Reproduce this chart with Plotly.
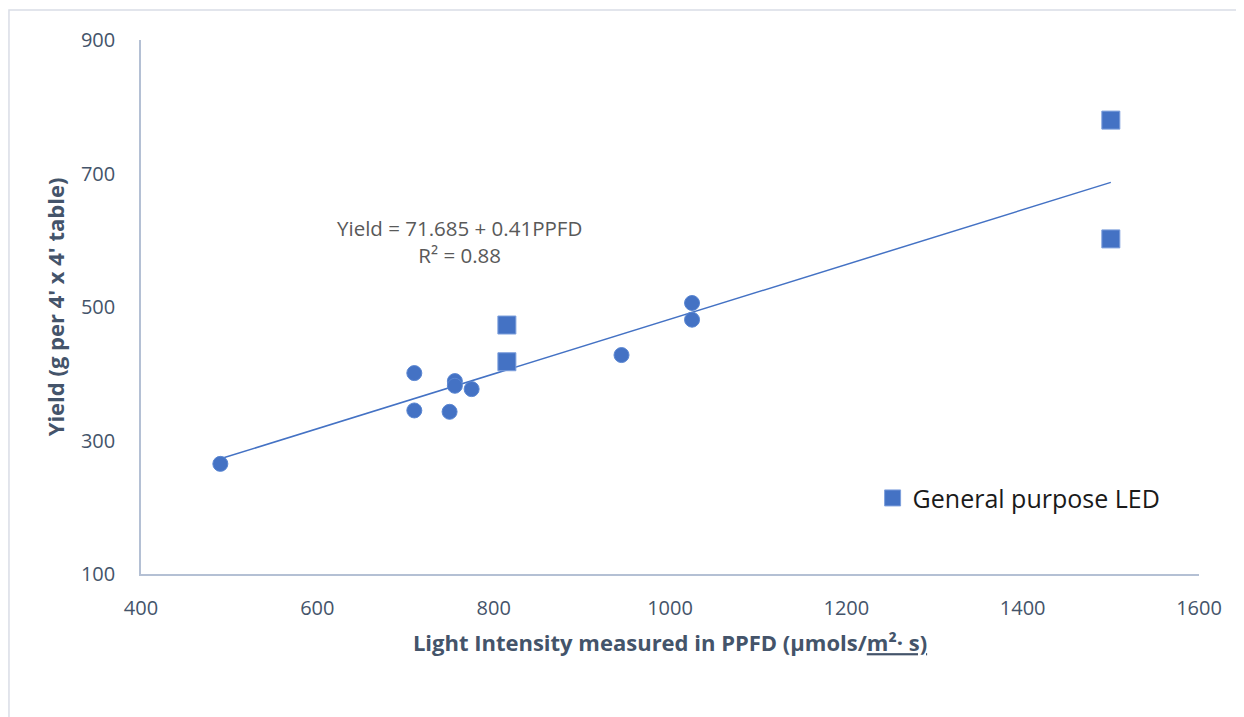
import plotly.graph_objects as go
import numpy as np

# Data
other_ppfd = [490, 710, 710, 750, 756, 756, 775, 945, 1025, 1025]
other_yield = [265, 401, 345, 343, 389, 382, 377, 428, 506, 481]

led_ppfd = [815, 815, 1500, 1500]
led_yield = [473, 418, 780, 602]

fit_intercept = 71.685
fit_slope = 0.41
fit_r2 = 0.88

x_ticks = [400, 600, 800, 1000, 1200, 1400, 1600]
y_ticks = [100, 300, 500, 700, 900]

FONT = "Open Sans"
BLUE = "#4472c4"
AXIS_TXT = "#44546a"

all_x = other_ppfd + led_ppfd
fx = np.array([min(all_x), max(all_x)])
fy = fit_intercept + fit_slope * fx

fig = go.Figure()
fig.add_trace(go.Scatter(
    x=fx, y=fy, mode="lines", line=dict(color=BLUE, width=1.5),
    showlegend=False, hoverinfo="skip"))
fig.add_trace(go.Scatter(
    x=other_ppfd, y=other_yield, mode="markers",
    marker=dict(symbol="circle", size=15, color=BLUE,
                line=dict(color="#5a86d2", width=1)),
    showlegend=False))
fig.add_trace(go.Scatter(
    x=led_ppfd, y=led_yield, mode="markers", name="General purpose LED",
    marker=dict(symbol="square", size=18, color=BLUE,
                line=dict(color="#7d9fdc", width=1))))

fig.add_annotation(
    x=0.3015, y=0.622, xref="paper", yref="paper",
    xanchor="center", yanchor="middle",
    text=f"Yield = {fit_intercept} + {fit_slope}PPFD<br>R² = {fit_r2}",
    showarrow=False, align="center",
    font=dict(family=FONT, size=20.5, color="#595959"))

# outer border
fig.add_shape(type="rect", xref="paper", yref="paper",
              x0=-0.1248, x1=1.06, y0=-0.30, y1=1.056,
              line=dict(color="#d9dde6", width=1.5), fillcolor="rgba(0,0,0,0)",
              layer="below")

fig.update_layout(
    width=1244, height=717,
    margin=dict(l=133, r=53, t=32, b=151),
    plot_bgcolor="white", paper_bgcolor="white",
    font=dict(family=FONT, color=AXIS_TXT),
    showlegend=True,
    legend=dict(x=0.6915, y=0.142, xanchor="left", yanchor="middle",
                font=dict(family=FONT, size=25, color="#1a1a1a"),
                bgcolor="rgba(0,0,0,0)", itemsizing="trace"),
    xaxis=dict(range=[400, 1600], tickvals=x_ticks, showgrid=False,
               zeroline=False, showline=True, linecolor="#b4c0d4", linewidth=1.5,
               ticks="", tickfont=dict(size=20, color=AXIS_TXT),
               ticklabelstandoff=15,
               title=dict(text="<b>Light Intensity measured in PPFD (μmols/<u>m²· s)</u></b>",
                          font=dict(size=22, color=AXIS_TXT), standoff=16)),
    yaxis=dict(range=[100, 900], tickvals=y_ticks, showgrid=False,
               zeroline=False, showline=True, linecolor="#b4c0d4", linewidth=1.5,
               ticks="", tickfont=dict(size=20, color=AXIS_TXT),
               ticklabelstandoff=20,
               title=dict(text="<b>Yield (g per 4' x 4' table)</b>",
                          font=dict(size=22, color=AXIS_TXT), standoff=10)),
)

fig.write_html("out.html")
